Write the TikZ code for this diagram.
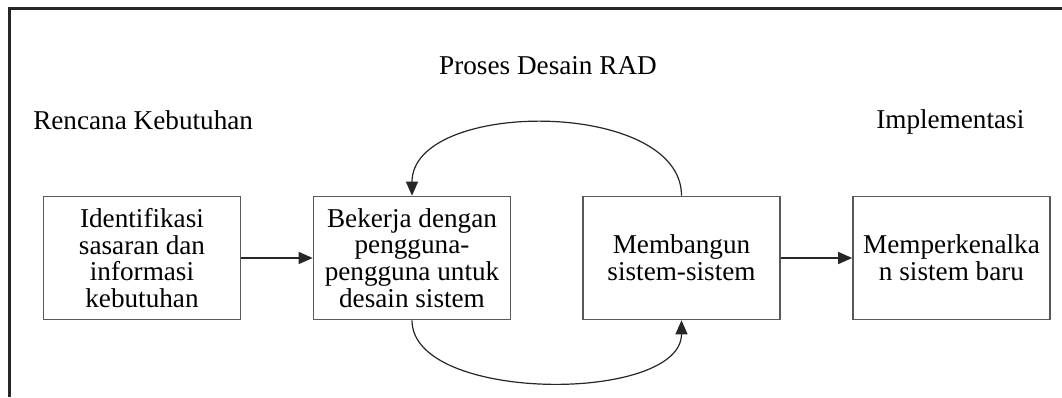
\documentclass[tikz,border=0pt]{standalone}
\usepackage{fontspec}
\setmainfont{Liberation Serif}
\usetikzlibrary{arrows.meta}
\begin{document}
\begin{tikzpicture}[x=0.75pt,y=-0.75pt,
  box/.style={draw=black!65,line width=1.2pt,minimum width=147.75pt,minimum height=92.25pt,
    align=center,inner sep=0pt,font=\fontsize{20.4}{20}\selectfont},
  lbl/.style={inner sep=0pt,font=\fontsize{20.4}{20}\selectfont},
  conn/.style={draw=black!85,line width=0.9pt,-{Triangle[length=10.5pt,width=9pt]}}]
\useasboundingbox (0,0) rectangle (1062,397);
\draw[line width=1.6pt,black!85] (9.5,397) -- (9.5,8.5) -- (1062,8.5);
\node[lbl,anchor=base] (title) at (548,74) {Proses Desain RAD};
\node[lbl,anchor=base west] (plan) at (33,129) {Rencana Kebutuhan};
\node[lbl,anchor=base west] (impl) at (876,128) {Implementasi};
\node[box] (b1) at (142,258) {Identifikasi\\sasaran dan\\informasi\\kebutuhan};
\node[box] (b2) at (412,258) {Bekerja dengan\\pengguna-\\pengguna untuk\\desain sistem};
\node[box] (b3) at (681.5,258) {Membangun\\sistem-sistem};
\node[box] (b4) at (951.5,258) {Memperkenalka\\n sistem baru};
\draw[conn] (b1.east) -- (b2.west);
\draw[conn] (b3.east) -- (b4.west);
\draw[conn] (b3.north) .. controls +(0,-97) and +(0,-97) .. (b2.north);
\draw[conn] (b2.south) .. controls +(0,83) and +(0,83) .. (b3.south);
\end{tikzpicture}
\end{document}
